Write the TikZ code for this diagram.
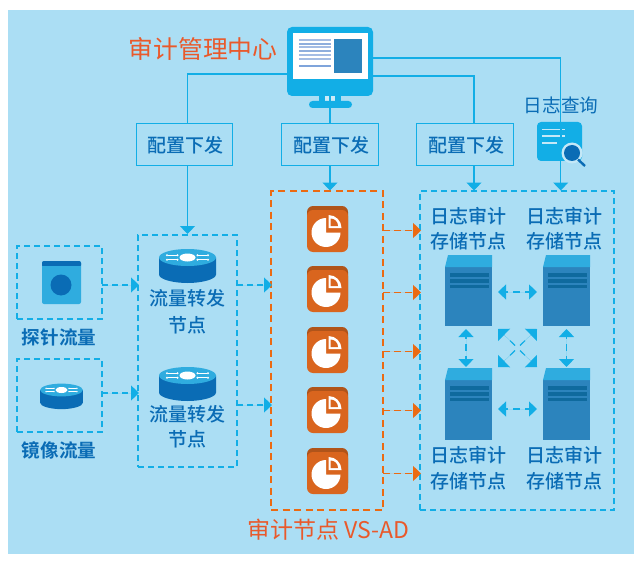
\documentclass[tikz,border=0pt]{standalone}
\usepackage{fontspec}
\setmainfont{Noto Sans CJK SC}
\newfontfamily\medfont{Noto Sans CJK SC Medium}
\newfontfamily\heavyfont{Noto Sans CJK SC Bold}
\usetikzlibrary{arrows.meta}
\definecolor{bgc}{HTML}{ABDEF4}
\definecolor{cy}{HTML}{12AEE6}
\definecolor{deep}{HTML}{0A6CB5}
\definecolor{sky}{HTML}{2FACDF}
\definecolor{front}{HTML}{2C84BD}
\definecolor{strip}{HTML}{0F6A9E}
\definecolor{org}{HTML}{EB6A12}
\definecolor{redo}{HTML}{E9592B}
\definecolor{appc}{HTML}{D9651E}
\definecolor{appd}{HTML}{B0541A}
\tikzset{
  x=1pt,y=-1pt,
  every node/.style={inner sep=0pt,outer sep=0pt},
  link/.style={draw=cy,line width=1.1pt},
  tip/.style={-{Triangle[width=15pt,length=8pt]}},
  twotip/.style={{Triangle[width=15pt,length=8pt]}-{Triangle[width=15pt,length=8pt]}},
  flow/.style={draw=cy,fill=cy,line width=1.2pt,dash pattern=on 6pt off 4pt},
  pairflow/.style={draw=cy,fill=cy,line width=1.2pt,dash pattern=on 7pt off 5pt,dash phase=4.5pt},
  oflow/.style={draw=org,fill=org,line width=1.5pt,dash pattern=on 7pt off 4pt},
  cfgbox/.style={draw=cy,line width=1.1pt,minimum width=96.5pt,minimum height=42.5pt},
  blueframe/.style={draw=cy,line width=1.1pt,dash pattern=on 6pt off 4pt},
  orangeframe/.style={draw=org,line width=1.5pt,dash pattern=on 7pt off 4.5pt},
  txt/.style={text=deep,font=\medfont\fontsize{19}{19}\selectfont},
  boldtxt/.style={text=deep,font=\heavyfont\fontsize{18.6}{19}\selectfont},
  title/.style={text=redo,font=\fontsize{24.8}{25}\selectfont},
  serverfront/.style={fill=front,minimum width=47pt},
  pics/router/.style={code={
    \fill[deep] (-28.5,0) -- (-28.5,17) .. controls (-28.5,22) and (-14,25.5) .. (0,25.5)
      .. controls (14,25.5) and (28.5,22) .. (28.5,17) -- (28.5,0) -- cycle;
    \fill[sky] (0,0) ellipse [x radius=28.5,y radius=8.5];
    \fill[white] (0,0) ellipse [x radius=8,y radius=4];
    \foreach \s in {-1,1}{
      \foreach \t in {-2.2,2.2}{
        \draw[white,line width=1pt] (\s*10,\t) -- (\s*19.5,\t);
        \fill[white] (\s*20.5,\t) circle [radius=1.1];
        \fill[white] (\s*10,\t) circle [radius=1.1];
      }
    }
  }},
  pics/app/.style={code={
    \fill[appd,rounded corners=6pt] (-20.5,-23) rectangle (20.5,18);
    \fill[appc,rounded corners=6pt] (-20.5,-19) rectangle (20.5,23);
    \fill[white] (-1.5,3.5) -- (-1.5,-11) arc [start angle=90,end angle=360,radius=14.5pt] -- cycle;
    \fill[white] (1,-1) -- (1,-14) arc [start angle=90,end angle=0,radius=13pt] -- cycle;
    \fill[appc] (3,-3) -- (3,-10.5) arc [start angle=90,end angle=0,radius=7.5pt] -- cycle;
  }},
  pics/servertop/.style={code={
    \fill[sky] (0,0) -- (3,-12) -- (47,-12) -- (47,0) -- cycle;
    \fill[strip] (5,6) rectangle (44,10);
    \fill[strip] (5,12) rectangle (44,16);
    \fill[strip] (5,18) rectangle (44,21);
  }},
}
\begin{document}
\begin{tikzpicture}
\useasboundingbox (0,0) rectangle (639,564);
\fill[bgc] (8,10) rectangle (634,554);

% frames
\node[blueframe,minimum width=85pt,minimum height=73pt] (probe) at (59.5,282.5) {};
\node[blueframe,minimum width=85pt,minimum height=73pt] (mirror) at (59.5,395.5) {};
\node[blueframe,minimum width=99pt,minimum height=232pt] (fwd) at (187.5,351) {};
\node[orangeframe,minimum width=112pt,minimum height=319pt] (aud) at (327,350.5) {};
\node[blueframe,minimum width=194pt,minimum height=319pt] (log) at (517,350.5) {};

% configuration boxes
\node[cfgbox] (cfg1) at (184.5,144.5) {};
\node[cfgbox] (cfg2) at (330,144.5) {};
\node[cfgbox] (cfg3) at (465,144.5) {};

% monitor
\node[fill=cy,rounded corners=5pt,minimum width=86pt,minimum height=69pt] (mon) at (330,61.5) {};

% links
\draw[link] ([yshift=-12.5pt]mon.west) -| ([xshift=3pt]cfg1.north);
\draw[link] (mon.south) -- (cfg2.north);
\draw[link] ([yshift=-14.5pt]mon.east) -| ([xshift=9pt]cfg3.north);
\draw[link,tip] ([yshift=3.5pt]mon.east) -| ([xshift=43.7pt,yshift=0.5pt]log.north);
\draw[link,tip] ([xshift=3pt]cfg1.south) -- ([yshift=1pt]fwd.north);
\draw[link,tip] (cfg2.south) -- ([xshift=3pt,yshift=0.5pt]aud.north);
\draw[link,tip] ([xshift=9pt]cfg3.south) -- ([xshift=-43pt,yshift=0.5pt]log.north);

% dashed flows
\draw[flow,tip] ([yshift=-2.5pt]probe.east) -- ([xshift=1pt,yshift=66pt]fwd.west);
\draw[flow,tip] ([yshift=2.5pt]mirror.east) -- ([xshift=1pt,yshift=-42pt]fwd.west);
\draw[flow,tip] ([yshift=66pt]fwd.east) -- ([xshift=1pt,yshift=65.5pt]aud.west);
\draw[flow,tip] ([yshift=-54pt]fwd.east) -- ([xshift=1pt,yshift=-54.5pt]aud.west);
\foreach \dy in {120,58,-1,-60,-123}
  \draw[oflow,tip] ([yshift=\dy pt]aud.east) -- ([xshift=1pt,yshift=\dy pt]log.west);

% monitor details
\fill[cy] (319,96) rectangle (341,101);
\fill[bgc!60!white] (325,96) rectangle (329,101);
\fill[bgc!60!white] (331,96) rectangle (335,101);
\fill[cy,rounded corners=3.5pt] (309,101) rectangle (352,108);
\fill[white] (293,33) rectangle (368,79);
\fill[front] (334,39) rectangle (362,73);
\foreach \yy/\cc in {40/A4BCE4,44/8FAEDD,47/A4BCE4,51/8FAEDD,55/A4BCE4,59/A4BCE4,66/7FA4DB}{
  \definecolor{tmpc}{HTML}{\cc}
  \draw[tmpc,line width=1.4pt] (299,\yy) -- (331,\yy);
}

% query icon
\fill[cy,rounded corners=4pt] (537,122) rectangle (582,161);
\draw[bgc!70!white,line width=1.8pt] (542,129.5) -- (560,129.5) (562,129.5) -- (565,129.5);
\draw[bgc!70!white,line width=1.8pt] (542,136) -- (560,136) (562,136) -- (565,136);
\draw[bgc!70!white,line width=1.8pt] (542,143) -- (557,143);
\fill[bgc!70!white] (572,153) circle [radius=10.5];
\draw[deep,line width=2.4pt] (578,159.5) -- (585,166);
\fill[deep] (572,153) circle [radius=8];

% probe icon
\fill[sky,rounded corners=2pt] (42,261) rectangle (81,304);
\fill[deep,rounded corners=2pt] (42,261) rectangle (81,267);
\fill[sky] (42,266) rectangle (81,268);
\fill[deep] (61,285) circle [radius=10.5];

% routers
\pic at (187.5,257.5) {router};
\pic at (187.5,375.5) {router};
\pic[scale=0.75] at (61.5,390) {router};

% apps
\foreach \yy in {229,289,350,410,471}
  \pic at (327.5,\yy) {app};

% servers
\node[serverfront,minimum height=59pt,anchor=north west] (s1) at (445,267) {};
\node[serverfront,minimum height=59pt,anchor=north west] (s2) at (543,267) {};
\node[serverfront,minimum height=60pt,anchor=north west] (s3) at (445,380) {};
\node[serverfront,minimum height=60pt,anchor=north west] (s4) at (543,380) {};
\pic at (445,267) {servertop};
\pic at (543,267) {servertop};
\pic at (445,380) {servertop};
\pic at (543,380) {servertop};

% server links
\draw[pairflow,twotip] ([xshift=6pt,yshift=4.5pt]s1.east) -- ([xshift=-6pt,yshift=4.5pt]s2.west);
\draw[pairflow,twotip] ([xshift=6pt,yshift=1pt]s3.east) -- ([xshift=-6pt,yshift=1pt]s4.west);
\draw[pairflow,twotip] ([xshift=-2.5pt,yshift=-3pt]s1.south) -- ([xshift=-2.5pt,yshift=13pt]s3.north);
\draw[pairflow,twotip] ([xshift=0pt,yshift=-3pt]s2.south) -- ([xshift=0pt,yshift=13pt]s4.north);

% cross arrows
\coordinate (xc) at (517.5,348);
\foreach \sx/\sy in {-1/-1,1/-1,-1/1,1/1}
  \draw[draw=cy,fill=cy,line width=1.2pt,dash pattern=on 7pt off 20pt,-{Triangle[width=17pt,length=8.5pt]}]
    ([xshift=\sx*2.5pt,yshift=-\sy*2.5pt]xc) -- ([xshift=\sx*19.5pt,yshift=-\sy*19pt]xc);

% labels
\node[title] (tmgr) at (203,49) {审计管理中心};
\node[title,font=\fontsize{23}{23}\selectfont] (taud) at (328,530) {审计节点 VS-AD};
\node[txt] (tc1) at (185,145) {配置下发};
\node[txt] (tc2) at (331,145) {配置下发};
\node[txt] (tc3) at (466,145) {配置下发};
\node[text=deep,font=\fontsize{18.6}{19}\selectfont] (tq) at (561,105) {日志查询};
\node[boldtxt] (tp) at (59,337) {探针流量};
\node[boldtxt] (tm) at (59,450) {镜像流量};
\node[txt] (tf1) at (187,298) {流量转发};
\node[txt] (tf2) at (187,325) {节点};
\node[txt] (tf3) at (187,414) {流量转发};
\node[txt] (tf4) at (187,439) {节点};
\node[txt] (l1a) at (468.5,216) {日志审计};
\node[txt] (l1b) at (468.5,241) {存储节点};
\node[txt] (l2a) at (564.5,216) {日志审计};
\node[txt] (l2b) at (564.5,241) {存储节点};
\node[txt] (l3a) at (468.5,455) {日志审计};
\node[txt] (l3b) at (468.5,481) {存储节点};
\node[txt] (l4a) at (564.5,455) {日志审计};
\node[txt] (l4b) at (564.5,481) {存储节点};
\end{tikzpicture}
\end{document}
